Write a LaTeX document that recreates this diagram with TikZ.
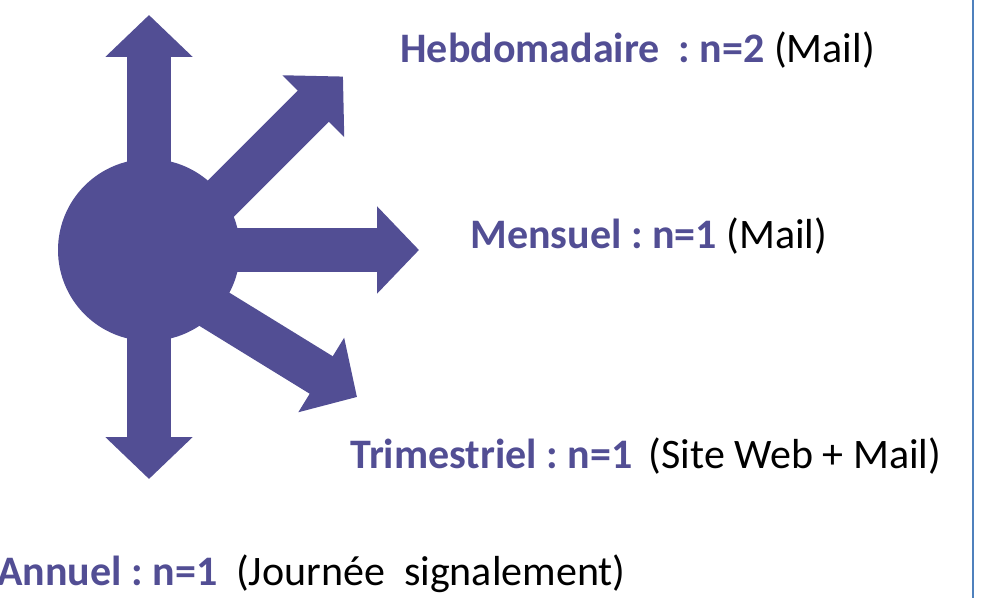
\documentclass[tikz,border=0pt]{standalone}
\usepackage{fontspec}
\setmainfont{Carlito}
\usetikzlibrary{arrows.meta}
\definecolor{hubpurple}{RGB}{82,78,148}
\definecolor{frameblue}{RGB}{79,129,189}
\frenchspacing

\begin{document}
\begin{tikzpicture}[x=0.5pt,y=-0.5pt]


        % Setup the styles for the hub, the rays and the labels
        \tikzset{hub style/.style={circle,
                                   minimum size=91pt,
                                   inner sep=0pt,
                                   fill=hubpurple},
                 ray style/.style={hubpurple,
                                   line width=22pt,
                                   -{Triangle[width=42.5pt,length=21pt]}},
                 label style/.style={anchor=base west,
                                     inner sep=0pt,
                                     font=\fontsize{21}{25}\selectfont}}

\useasboundingbox (0,0) rectangle (988,598);

% Add the hub
\node[hub style] at (149,250) (hub) {};

% Add the ends of the rays
\coordinate (up) at (149,15);
\coordinate (down) at (149,479);
\coordinate (right) at (419,250);
\coordinate (ne start) at (200,219.5);
\coordinate (ne) at (343,76.5);
\coordinate (se start) at (192,295.5);
\coordinate (se) at (357,397);

	 \draw[ray style] (hub.center) -- (up);
	 \draw[ray style] (hub.center) -- (down);
	 \draw[ray style] (hub.center) -- (right);
	 \draw[ray style] (ne start) -- (ne);
	 \draw[ray style] (se start) -- (se);

% Add the labels
\node[label style] at (400,63) (hebdo) {\textcolor{hubpurple}{\textbf{Hebdomadaire\ \ : n=2}} (Mail)};

\node[label style] at (470,249) (mensuel) {\textcolor{hubpurple}{\textbf{Mensuel : n=1}} (Mail)};

\node[label style] at (350,468) (trim) {\textcolor{hubpurple}{\textbf{Trimestriel\ : n=1}}\, (Site Web + Mail)};

\node[label style] at (-3,585) (annuel) {\textcolor{hubpurple}{\textbf{Annuel : n=1}}\ \ (Journée\ \ signalement)};

% Add the frame edge
\coordinate (frame top) at (973,0);
\coordinate (frame bottom) at (973,598);
	 \draw[frameblue, line width=1pt] (frame top) -- (frame bottom);
\end{tikzpicture}
\end{document}
